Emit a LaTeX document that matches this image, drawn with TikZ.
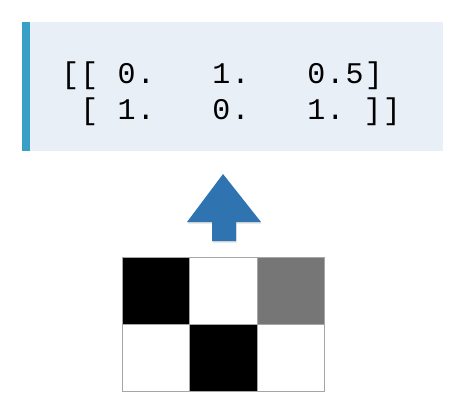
\documentclass[tikz,border=0pt]{standalone}
\usepackage{fontspec}
\newfontfamily\codefont[LetterSpace=4]{Liberation Mono}
\usetikzlibrary{shadows}
\definecolor{codebg}{HTML}{E8EFF7}
\definecolor{codebar}{HTML}{38A0C6}
\definecolor{arrowblue}{HTML}{2F74B0}
\definecolor{cellgray}{HTML}{767676}

\begin{document}
\begin{tikzpicture}[x=0.75pt,y=-0.75pt,
  cell/.style={draw=gray!70,line width=0.6pt,inner sep=0pt,outer sep=0pt,
    minimum width=50.8pt,minimum height=50.25pt},
  code/.style={anchor=base west,inner sep=0pt,font=\codefont\fontsize{22.5}{27}\selectfont}]
  \useasboundingbox (0,0) rectangle (472,408);

  % code box
  \fill[codebg] (22,22) rectangle (443,151);
  \fill[codebar] (22,22) rectangle (30,151);
  \node[code] (row1) at (61,83) {[[~0.~~~1.~~~0.5]};
  \node[code] (row2) at (61,119) {~[~1.~~~0.~~~1.~]]};

  % arrow
  \fill[arrowblue,drop shadow={opacity=0.25,shadow xshift=0.4pt,shadow yshift=-1.2pt}]
    (223,174) -- (261,222) -- (236,222) -- (236,241) -- (212,241) -- (212,222) -- (187,222) -- cycle;

  % image
  \node[cell,fill=black] (c11) at (156,290.5) {};
  \node[cell,fill=white] (c12) at (223.5,290.5) {};
  \node[cell,fill=cellgray] (c13) at (291,290.5) {};
  \node[cell,fill=white] (c21) at (156,357.5) {};
  \node[cell,fill=black] (c22) at (223.5,357.5) {};
  \node[cell,fill=white] (c23) at (291,357.5) {};
\end{tikzpicture}
\end{document}
